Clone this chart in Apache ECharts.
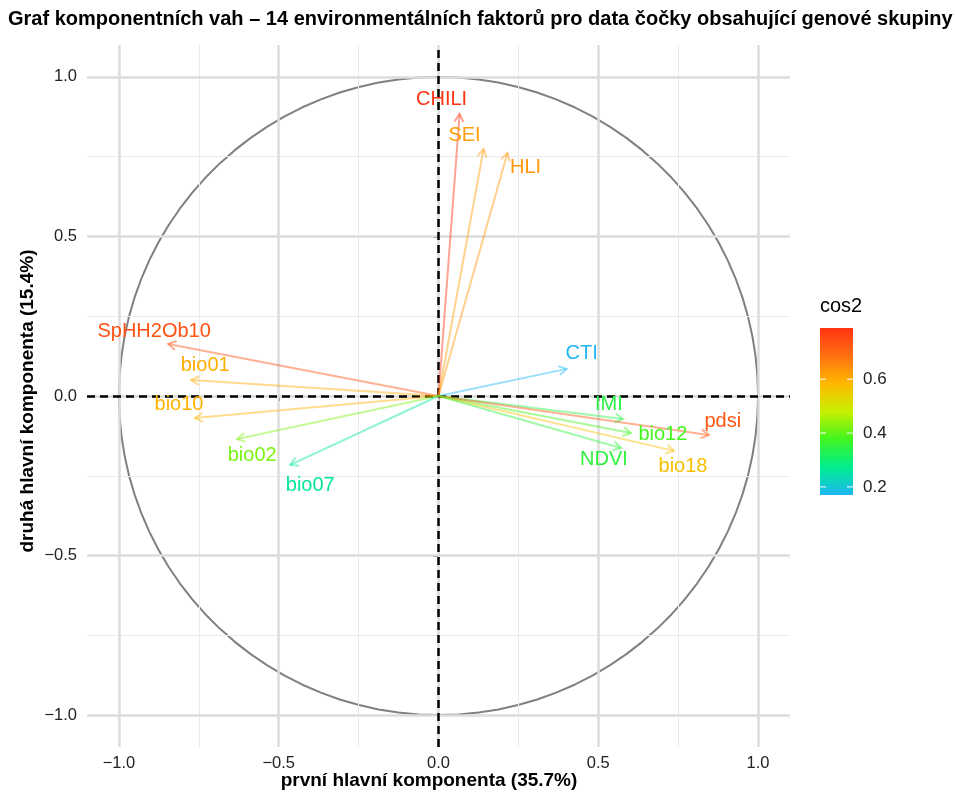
<!DOCTYPE html>
<html><head><meta charset="utf-8">
<script src="https://cdn.jsdelivr.net/npm/echarts@6/dist/echarts.min.js"></script>
<style>html,body{margin:0;padding:0;background:#fff}#c{width:955px;height:797px}</style>
</head><body><div id="c"></div>
<script>
// ---- data ----
const variables = ['CHILI','SEI','HLI','SpHH2Ob10','bio01','bio10','bio02','bio07','CTI','IMI','bio12','pdsi','bio18','NDVI'];
const pc1 = [0.066,0.141,0.216,-0.846,-0.774,-0.762,-0.630,-0.464,0.401,0.577,0.602,0.846,0.737,0.571];
const pc2 = [0.884,0.774,0.762,0.163,0.050,-0.069,-0.135,-0.216,0.085,-0.072,-0.116,-0.122,-0.172,-0.163];
const cos2 = [0.79,0.62,0.63,0.74,0.60,0.59,0.42,0.26,0.17,0.34,0.38,0.73,0.57,0.35];
const axisTicks = [-1.0,-0.5,0.0,0.5,1.0];
const minorGrid = [-0.75,-0.25,0.25,0.75];
const legendTicks = [0.2,0.4,0.6];
const titleText = 'Graf komponentních vah – 14 environmentálních faktorů pro data čočky obsahující genové skupiny';
const xName = 'první hlavní komponenta (35.7%)';
const yName = 'druhá hlavní komponenta (15.4%)';

// ---- styling / layout ----
const FONT = '"Liberation Sans", Arial, Helvetica, sans-serif';
const gradColors = ['#1DB7F2','#00EE90','#40F520','#C8F000','#FFB800','#FF7010','#FF3311'];
const cMin = Math.min(...cos2), cMax = Math.max(...cos2);
const colorOf = v => echarts.color.lerp((v - cMin) / (cMax - cMin), gradColors);
const labelNudge = {
  CHILI:[-18,-14], SEI:[-19,-14], HLI:[18,15], SpHH2Ob10:[-14,-13], bio01:[14,-15],
  bio10:[-16,-14], bio02:[15,16], bio07:[20,21], CTI:[15,-15], IMI:[-14,-14],
  bio12:[32,1], pdsi:[14,-13], bio18:[9,16], NDVI:[-17,11]
};
const fmt = v => (v < 0 ? '\u2212' : '') + Math.abs(v).toFixed(1);

const circle = [];
for (let i = 0; i <= 100; i++) { const a = 2 * Math.PI * i / 100; circle.push([Math.cos(a), Math.sin(a)]); }

const GRID = {left:87, right:165, top:45, bottom:50, containLabel:false, outerBoundsMode:'none'};
const chart = echarts.init(document.getElementById('c'));

function axisCommon(labelMargin) {
  return {
    type:'value', min:-1.1, max:1.1,
    axisLine:{show:false}, splitLine:{show:false},
    axisTick:{show:true, customValues:axisTicks, length:5, lineStyle:{color:'#000', width:2}},
    axisLabel:{customValues:axisTicks, formatter:fmt, margin:labelMargin, fontFamily:FONT, fontSize:16.5, color:'#222'}
  };
}

const data = variables.map((v,i) => ({name:v, value:[pc1[i], pc2[i], cos2[i]]}));

const option = {
  animation:false,
  backgroundColor:'#fff',
  title:{text:titleText, left:8, top:9, padding:0,
    textStyle:{fontFamily:FONT, fontSize:20, fontWeight:'bold', color:'#000'}},
  grid:GRID,
  xAxis:axisCommon(8),
  yAxis:axisCommon(10),
  series:[
    { type:'line', data:[], silent:true, z:1,
      markLine:{silent:true, symbol:'none', label:{show:false}, animation:false,
        lineStyle:{color:'#ebebeb', width:1, type:'solid'},
        data:minorGrid.map(v=>({xAxis:v})).concat(minorGrid.map(v=>({yAxis:v})))} },
    { type:'line', data:[], silent:true, z:2,
      markLine:{silent:true, symbol:'none', label:{show:false}, animation:false,
        lineStyle:{color:'#dcdcdc', width:2.5, type:'solid'},
        data:axisTicks.map(v=>({xAxis:v})).concat(axisTicks.map(v=>({yAxis:v})))} },
    { type:'line', data:circle, showSymbol:false, symbol:'none', silent:true, z:3,
      lineStyle:{color:'#808080', width:2} },
    { type:'custom', data:data, z:5, silent:true,
      renderItem:(params, api) => {
        const idx = params.dataIndex;
        const o = api.coord([0,0]);
        const t = api.coord([api.value(0), api.value(1)]);
        const col = colorOf(api.value(2));
        const ang = Math.atan2(t[1]-o[1], t[0]-o[0]);
        const L = 9, a = Math.PI/6;
        const p1 = [t[0]-L*Math.cos(ang-a), t[1]-L*Math.sin(ang-a)];
        const p2 = [t[0]-L*Math.cos(ang+a), t[1]-L*Math.sin(ang+a)];
        const nd = labelNudge[variables[idx]] || [0,0];
        return {type:'group', children:[
          {type:'line', shape:{x1:o[0],y1:o[1],x2:t[0],y2:t[1]}, style:{stroke:col, lineWidth:2, opacity:0.45}},
          {type:'polyline', shape:{points:[p1,t,p2]}, style:{stroke:col, lineWidth:2, fill:null, opacity:0.45}},
          {type:'text', x:t[0]+nd[0], y:t[1]+nd[1], z2:10,
            style:{text:variables[idx], fill:col, font:'20px ' + FONT, align:'center', verticalAlign:'middle'}}
        ]};
      } },
    { type:'line', data:[], silent:true, z:8,
      markLine:{silent:true, symbol:'none', label:{show:false}, animation:false,
        lineStyle:{color:'#000', width:2.5, type:[8,5]},
        data:[{xAxis:0},{yAxis:0}]} }
  ]
};
chart.setOption(option);

// ---- axis titles + colour bar legend ----
const bar = {x:820, y:328, w:33, h:167};
const stops = gradColors.map((c,i)=>({offset:i/(gradColors.length-1), color:c}));
const g = [
  {type:'text', x:429, y:781, style:{text:xName, font:'bold 19px ' + FONT, fill:'#000', align:'center', verticalAlign:'middle'}},
  {type:'text', x:28, y:401, rotation:Math.PI/2, style:{text:yName, font:'bold 19px ' + FONT, fill:'#000', align:'center', verticalAlign:'middle'}},
  {type:'text', left:bar.x, top:bar.y-32, style:{text:'cos2', font:'20px ' + FONT, fill:'#000'}},
  {type:'rect', shape:{x:bar.x, y:bar.y, width:bar.w, height:bar.h},
    style:{fill:new echarts.graphic.LinearGradient(0,1,0,0,stops)}}
];
legendTicks.forEach(v => {
  const yy = bar.y + bar.h - (v - cMin)/(cMax - cMin)*bar.h;
  g.push({type:'line', shape:{x1:bar.x, y1:yy, x2:bar.x+6, y2:yy}, style:{stroke:'#fff', lineWidth:1}});
  g.push({type:'line', shape:{x1:bar.x+bar.w-6, y1:yy, x2:bar.x+bar.w, y2:yy}, style:{stroke:'#fff', lineWidth:1}});
  g.push({type:'text', x:bar.x+bar.w+10, y:yy, style:{text:v.toFixed(1), font:'17px ' + FONT, fill:'#222', verticalAlign:'middle'}});
});
chart.setOption({graphic:g});
</script>
</body></html>
